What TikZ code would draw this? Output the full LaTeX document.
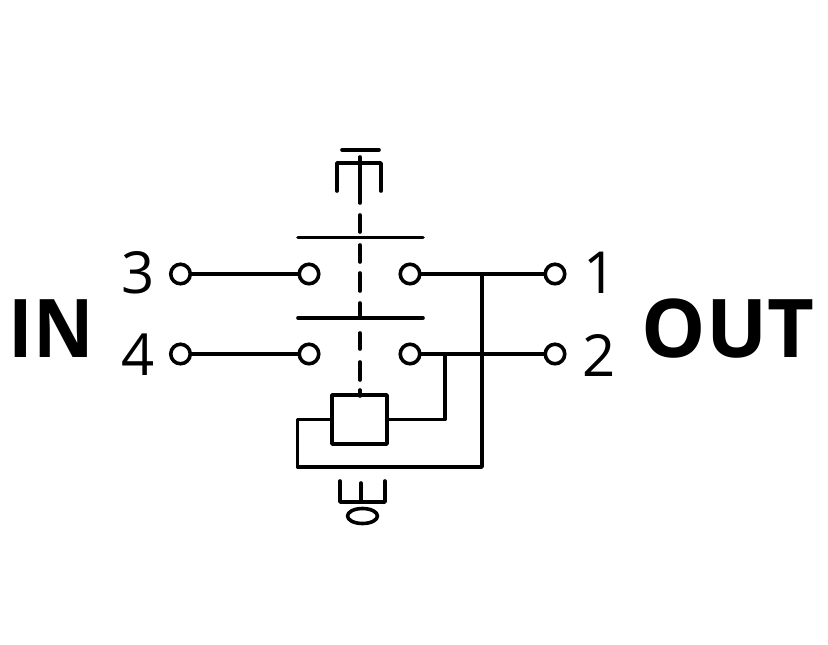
\documentclass[tikz,border=0pt]{standalone}
\usepackage{fontspec}
\setmainfont{Open Sans}
\begin{document}
\begin{tikzpicture}[x=1pt,y=-1pt,line width=3.6pt,line cap=round,line join=round,
  term/.style={circle,draw,fill=white,inner sep=0pt,minimum size=19.5pt},
  lead/.style={draw},
  num/.style={font=\fontsize{58}{58}\selectfont,inner sep=0pt},
  side/.style={font=\fontsize{81}{81}\selectfont\bfseries,inner sep=0pt}]
\useasboundingbox (0,0) rectangle (828,645);
% terminals
\node[term] (t3) at (180.5,274) {};
\node[term] (c3) at (309,274) {};
\node[term] (c1) at (410,274) {};
\node[term] (t1) at (555,274) {};
\node[term] (t4) at (180.5,354) {};
\node[term] (c4) at (309,354) {};
\node[term] (c2) at (410,354) {};
\node[term] (t2) at (555,354) {};
% coil
\node[draw,inner sep=0pt,minimum width=55pt,minimum height=49pt] (coil) at (359.5,419.5) {};
% junctions
\coordinate (j1) at (482,274);
\coordinate (j2) at (445,354);
\coordinate (j3) at (445,419.5);
\coordinate (j4) at (297.5,419.5);
\coordinate (j5) at (297.5,467);
\coordinate (j6) at (482,467);
% wires
\draw[lead] (t3) -- (c3);
\draw[lead] (t4) -- (c4);
\draw[lead] (c1) -- (t1);
\draw[lead] (c2) -- (t2);
\draw[lead] (j1) -- (j6) -- (j5) -- (j4) -- (coil.west);
\draw[lead] (j2) -- (j3) -- (coil.east);
% contact bars
\coordinate (b1l) at (298,237.5); \coordinate (b1r) at (423,237.5);
\coordinate (b2l) at (298,318); \coordinate (b2r) at (423,318);
\draw[lead] (b1l) -- (b1r);
\draw[lead] (b2l) -- (b2r);
% dashed actuator
\draw[lead] (360,157) -- (360,203);
\foreach \a/\b in {215/232,245/262,273/291,303/318,333/349,362/380,390/396}
  \draw[lead] (360,\a) -- (360,\b);
% push button
\draw[lead] (342,150) -- (379,150);
\draw[lead] (337,191) -- (337,163) -- (381,163) -- (381,191);
% bottom symbol
\draw[lead] (340,481) -- (340,502) -- (385,502) -- (385,481);
\draw[lead] (361,483) -- (361,502);
\draw (362.5,516) ellipse [x radius=15,y radius=7.5];
% labels
\node[num] (n3) at (138.5,272.5) {3};
\node[num] (n4) at (138.5,355) {4};
\node[num] (n1) at (600,272.5) {1};
\node[num] (n2) at (599.5,355) {2};
\node[side,xscale=0.92] (in) at (51,329) {IN};
\node[side] (out) at (728,329) {OUT};
\end{tikzpicture}
\end{document}
